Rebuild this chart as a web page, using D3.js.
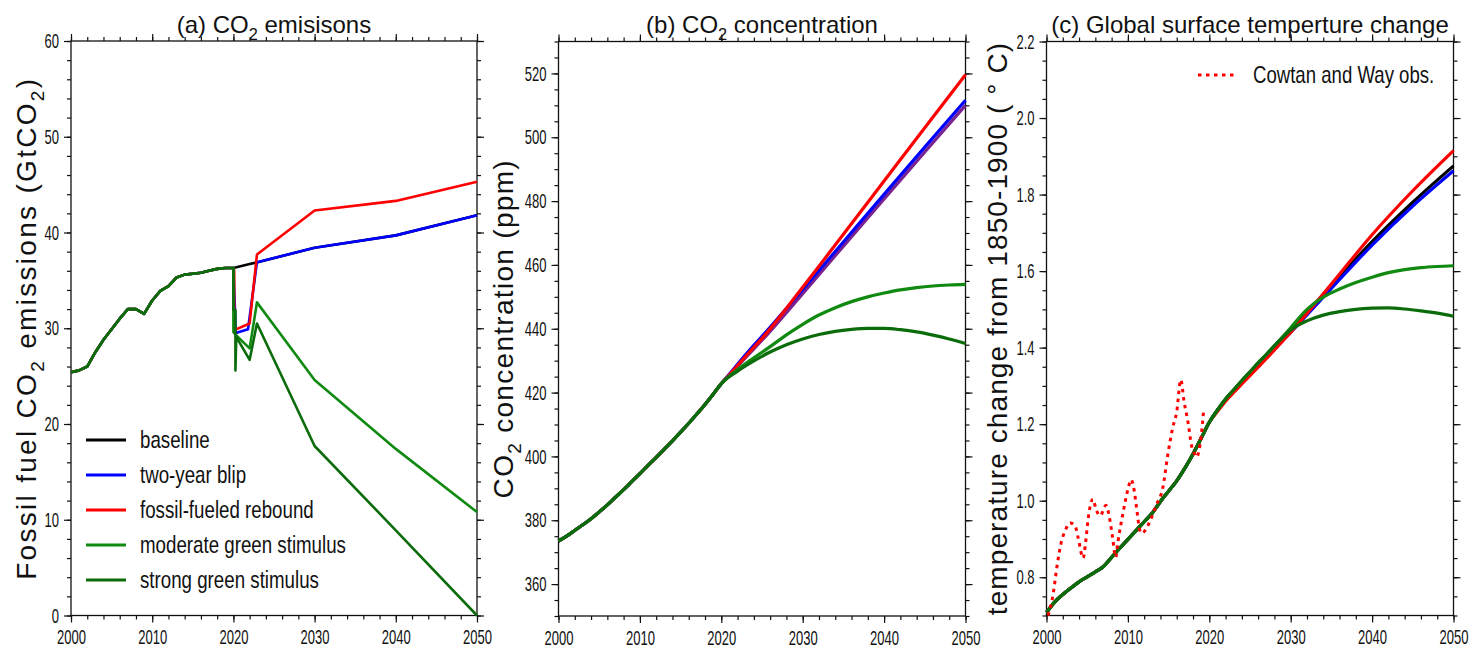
<!DOCTYPE html>
<html lang="en">
<head>
<meta charset="UTF-8">
<title>CO2 emissions, concentration and temperature scenarios</title>
<script src="https://d3js.org/d3.v7.min.js"></script>
<style>
  body { margin: 0; background: #fff; }
  svg { display: block; font-family: "Liberation Sans", Arial, sans-serif; }
  .tick text { font-size: 21px; fill: #111; }
  .tick line { stroke: #111; stroke-width: 1.2; }
  .frame { fill: none; stroke: #111; stroke-width: 1.3; }
  .series { fill: none; stroke-linejoin: round; }
</style>
</head>
<body>
<div id="chart"></div>
<script>
// ---- data ----
const scenarios = ["baseline", "two-year blip", "fossil-fueled rebound", "moderate green stimulus", "strong green stimulus"];
const colors = ["#000000", "#0000ff", "#ff0000", "#108a10", "#0b6c0b"];
const yearTicks = [2000, 2010, 2020, 2030, 2040, 2050];

// (a) fossil CO2 emissions, GtCO2
const emisHistory = [[2000,25.4],[2001,25.6],[2002,26.0],[2003,27.5],[2004,28.8],[2005,29.9],[2006,31.0],[2007,32.0],[2008,32.0],[2009,31.5],[2010,32.9],[2011,33.9],[2012,34.4],[2013,35.3],[2014,35.6],[2015,35.7],[2016,35.8],[2017,36.0],[2018,36.2],[2019,36.3],[2020,36.3]];
const emisBaseline = [[2021,36.5],[2022,36.7],[2023,36.9],[2030,38.4],[2040,39.7],[2050,41.8]];
const emisBlip = [[2020.3,29.5],[2021.8,29.9],[2022.9,36.9],[2030,38.4],[2040,39.7],[2050,41.8]];
const emisRebound = [[2020.1,36.0],[2020.1,29.8],[2022,30.5],[2022.9,37.7],[2030,42.3],[2040,43.3],[2050,45.3]];
const emisModerate = [[2020,29.6],[2020.3,29.3],[2022,27.9],[2022.9,32.7],[2030,24.6],[2040,17.4],[2050,10.8]];
const emisStrong = [[2020,31.9],[2020.25,31.9],[2020.25,25.6],[2020.35,29.1],[2022,26.7],[2022.9,30.5],[2030,17.7],[2040,8.9],[2050,0]];
const emisTicks = [0, 10, 20, 30, 40, 50, 60];

// (b) CO2 concentration, ppm
const concHistory = [[2000,373.5],[2001,375.0],[2002,376.8],[2003,378.6],[2004,380.5],[2005,382.6],[2006,384.8],[2007,387.2],[2008,389.6],[2009,392.1],[2010,394.6],[2011,397.2],[2012,399.7],[2013,402.3],[2014,404.9],[2015,407.6],[2016,410.4],[2017,413.3],[2018,416.3],[2019,419.5],[2020,422.8]];
const concBaseline = [[2021,425.4],[2022,428.2],[2023,431.0],[2024,433.7],[2025,436.4],[2030,451.0],[2035,465.9],[2040,480.7],[2045,495.4],[2050,510.0]];
const concBlip = [[2021,425.8],[2022,428.9],[2023,431.9],[2024,434.8],[2025,437.6],[2030,452.3],[2035,467.2],[2040,482.1],[2045,496.9],[2050,511.6]];
const concRebound = [[2021,425.6],[2022,428.5],[2023,431.4],[2024,434.2],[2025,437.0],[2030,453.0],[2035,469.6],[2040,486.3],[2045,503.0],[2050,519.6]];
const concModerate = [[2022,427.2],[2024,430.9],[2026,434.4],[2028,438.1],[2030,441.4],[2032,444.3],[2034,446.6],[2036,448.5],[2038,450.0],[2040,451.2],[2042,452.2],[2044,452.9],[2046,453.4],[2048,453.7],[2050,453.9]];
const concStrong = [[2022,426.7],[2024,429.9],[2026,432.7],[2028,435.0],[2030,436.8],[2032,438.2],[2034,439.2],[2036,439.8],[2038,440.1],[2040,440.1],[2042,439.7],[2044,439.0],[2046,438.0],[2048,436.8],[2050,435.4]];
const concTicks = [360, 380, 400, 420, 440, 460, 480, 500, 520];

// (c) global surface temperature change from 1850-1900, degC
const tempHistory = [[2000,0.708],[2001,0.735],[2002,0.755],[2003,0.772],[2004,0.788],[2005,0.801],[2006,0.814],[2007,0.828],[2008,0.852],[2009,0.876],[2010,0.899],[2011,0.922],[2012,0.945],[2013,0.968],[2014,0.998],[2015,1.025],[2016,1.052],[2017,1.085],[2018,1.122],[2019,1.163],[2020,1.205]];
const tempBaseline = [[2021,1.237],[2022,1.266],[2023,1.289],[2024,1.312],[2025,1.334],[2026,1.356],[2027,1.378],[2028,1.400],[2029,1.422],[2030,1.445],[2035,1.562],[2040,1.677],[2045,1.780],[2050,1.875]];
const tempBlip = [[2021,1.236],[2022,1.263],[2023,1.286],[2024,1.308],[2025,1.330],[2026,1.352],[2027,1.374],[2028,1.396],[2029,1.418],[2030,1.440],[2035,1.555],[2040,1.668],[2045,1.770],[2050,1.862]];
const tempRebound = [[2021,1.233],[2022,1.260],[2023,1.283],[2024,1.305],[2025,1.327],[2026,1.349],[2027,1.371],[2028,1.394],[2029,1.417],[2030,1.440],[2035,1.566],[2040,1.695],[2045,1.810],[2050,1.915]];
const tempModerate = [[2021,1.237],[2022,1.266],[2023,1.290],[2024,1.314],[2025,1.337],[2026,1.360],[2027,1.382],[2028,1.405],[2029,1.428],[2030,1.452],[2032,1.500],[2034,1.532],[2036,1.553],[2038,1.570],[2040,1.584],[2042,1.596],[2044,1.604],[2046,1.609],[2048,1.612],[2050,1.614]];
const tempStrong = [[2021,1.237],[2022,1.266],[2023,1.290],[2024,1.314],[2025,1.337],[2026,1.360],[2027,1.382],[2028,1.405],[2029,1.426],[2030,1.446],[2032,1.470],[2034,1.485],[2036,1.494],[2038,1.500],[2040,1.503],[2042,1.504],[2044,1.501],[2046,1.496],[2048,1.490],[2050,1.482]];
const tempObs = [[2000.2,0.700],[2000.8,0.754],[2001.3,0.830],[2001.8,0.890],[2002.3,0.922],[2002.9,0.942],[2003.5,0.935],[2003.9,0.902],[2004.5,0.850],[2004.8,0.890],[2005.1,0.950],[2005.7,1.004],[2006.1,0.976],[2006.6,0.961],[2007.3,0.988],[2007.7,0.960],[2008.1,0.907],[2008.5,0.852],[2008.75,0.889],[2009.4,0.968],[2010.0,1.029],[2010.4,1.055],[2010.7,1.035],[2011.2,0.959],[2011.4,0.928],[2011.7,0.915],[2012.5,0.937],[2013.5,0.989],[2014.3,1.035],[2014.9,1.120],[2015.5,1.190],[2016.0,1.233],[2016.5,1.316],[2016.9,1.259],[2017.4,1.203],[2017.8,1.146],[2018.2,1.122],[2018.45,1.114],[2018.75,1.133],[2019.0,1.168],[2019.3,1.235]];
const tempTicks = [0.8, 1.0, 1.2, 1.4, 1.6, 1.8, 2.0, 2.2];

// ---- layout ----
const W = 1478, H = 650;
const svg = d3.select("#chart").append("svg").attr("width", W).attr("height", H);

// rich text with subscripts: parts are strings or {sub: "2"}
function addRich(text, parts, size) {
  let down = 0;
  parts.forEach(p => {
    const t = text.append("tspan");
    if (typeof p === "string") {
      if (down) { t.attr("dy", -down); down = 0; }
      t.text(p);
    } else {
      down = size * 0.3;
      t.attr("dy", down).attr("font-size", size * 0.68).text(p.sub);
    }
  });
}

const panels = [
  { left: 71, right: 477, top: 41, bottom: 615.5, domain: [0, 60], ticks: emisTicks, minorStep: 2, fmt: d3.format("d"),
    width: 2.6, curve: d3.curveLinear,
    history: emisHistory, series: [emisBaseline, emisBlip, emisRebound, emisModerate, emisStrong],
    title: ["(a) CO", {sub: "2"}, " emisisons"],
    ylabel: ["Fossil fuel CO", {sub: "2"}, " emissions (GtCO", {sub: "2"}, ")"], ylabelX: 36, spacing: 2.3 },
  { left: 558.5, right: 965.5, top: 41.5, bottom: 616, domain: [350, 530], ticks: concTicks, minorStep: 5, fmt: d3.format("d"),
    width: 3.2, curve: d3.curveMonotoneX,
    history: concHistory, series: [concBaseline, concBlip, concRebound, concModerate, concStrong],
    colorOverride: { 0: "#7a2290" },
    title: ["(b) CO", {sub: "2"}, " concentration"],
    ylabel: ["CO", {sub: "2"}, " concentration (ppm)"], ylabelX: 513, spacing: 1.3 },
  { left: 1046.5, right: 1453.5, top: 41.5, bottom: 615.5, domain: [0.7, 2.2], ticks: tempTicks, minorStep: 0.05, fmt: d3.format(".1f"),
    width: 3.2, curve: d3.curveMonotoneX,
    history: tempHistory, series: [tempBaseline, tempBlip, tempRebound, tempModerate, tempStrong],
    title: ["(c) Global surface temperture change"],
    ylabel: ["temperature change from 1850-1900 ( \u00B0 C)"], ylabelX: 1007, spacing: 1.1 }
];

const sx = 0.62; // condensed tick labels

panels.forEach(p => {
  const x = d3.scaleLinear().domain([2000, 2050]).range([p.left, p.right]);
  const y = d3.scaleLinear().domain(p.domain).range([p.bottom, p.top]);
  const g = svg.append("g");

  const xMinor = d3.range(2000, 2051, 2);
  const nMinor = Math.round((p.domain[1] - p.domain[0]) / p.minorStep);
  const yMinor = d3.range(nMinor + 1).map(i => p.domain[0] + i * p.minorStep);

  const put = (axis, tx, ty) => {
    const a = g.append("g").attr("transform", `translate(${tx},${ty})`).call(axis);
    a.select(".domain").remove();
    return a;
  };
  // minor ticks on all four sides
  put(d3.axisBottom(x).tickValues(xMinor).tickSize(4).tickFormat(""), 0, p.bottom);
  put(d3.axisTop(x).tickValues(xMinor).tickSize(4).tickFormat(""), 0, p.top);
  put(d3.axisLeft(y).tickValues(yMinor).tickSize(4).tickFormat(""), p.left, 0);
  put(d3.axisRight(y).tickValues(yMinor).tickSize(4).tickFormat(""), p.right, 0);
  // major ticks
  const xb = put(d3.axisBottom(x).tickValues(yearTicks).tickSize(7).tickPadding(7).tickFormat(d3.format("d")), 0, p.bottom);
  xb.selectAll(".tick text").attr("transform", `scale(${sx},1)`);
  put(d3.axisTop(x).tickValues(yearTicks).tickSize(7).tickFormat(""), 0, p.top);
  const yl = put(d3.axisLeft(y).tickValues(p.ticks).tickSize(7).tickPadding(5).tickFormat(p.fmt), p.left, 0);
  yl.selectAll(".tick text").attr("x", -12 / sx).attr("transform", `scale(${sx},1)`);
  put(d3.axisRight(y).tickValues(p.ticks).tickSize(7).tickFormat(""), p.right, 0);

  g.append("rect").attr("class", "frame")
    .attr("x", p.left).attr("y", p.top)
    .attr("width", p.right - p.left).attr("height", p.bottom - p.top);

  const line = d3.line().x(d => x(d[0])).y(d => y(d[1])).curve(p.curve);
  p.series.forEach((s, i) => {
    const col = (p.colorOverride && p.colorOverride[i]) || colors[i];
    g.append("path").attr("class", "series")
      .attr("d", line(p.history.concat(s)))
      .attr("stroke", col).attr("stroke-width", p.width);
  });

  // title
  const t = g.append("text").attr("x", (p.left + p.right) / 2).attr("y", 33)
    .attr("text-anchor", "middle").attr("font-size", 24).attr("fill", "#111");
  addRich(t, p.title, 24);

  // y label
  const yt = g.append("text")
    .attr("transform", `translate(${p.ylabelX},${(p.top + p.bottom) / 2}) rotate(-90)`)
    .attr("text-anchor", "middle").attr("font-size", 28).attr("letter-spacing", p.spacing + "px").attr("fill", "#111");
  addRich(yt, p.ylabel, 28);

  p.x = x; p.y = y; p.g = g;
});

// legend, panel (a)
const lg = panels[0].g.append("g");
scenarios.forEach((name, i) => {
  const ly = 440 + i * 35;
  lg.append("line").attr("x1", 86).attr("x2", 126).attr("y1", ly).attr("y2", ly)
    .attr("stroke", colors[i]).attr("stroke-width", 3);
  lg.append("text").attr("transform", `translate(140,${ly + 8}) scale(0.78,1)`)
    .attr("font-size", 24).attr("fill", "#111").text(name);
});

// observations, panel (c)
const pc = panels[2];
const obsLine = d3.line().x(d => pc.x(d[0])).y(d => pc.y(d[1])).curve(d3.curveMonotoneX);
pc.g.append("path").attr("class", "series").attr("d", obsLine(tempObs))
  .attr("stroke", "#ff0000").attr("stroke-width", 3).attr("stroke-dasharray", "3.5,4.5");
pc.g.append("line").attr("x1", 1198).attr("x2", 1236).attr("y1", 75).attr("y2", 75)
  .attr("stroke", "#ff0000").attr("stroke-width", 3).attr("stroke-dasharray", "3.5,4.5");
pc.g.append("text").attr("transform", "translate(1253,83) scale(0.775,1)")
  .attr("font-size", 24).attr("fill", "#111").text("Cowtan and Way obs.");
</script>
</body>
</html>
